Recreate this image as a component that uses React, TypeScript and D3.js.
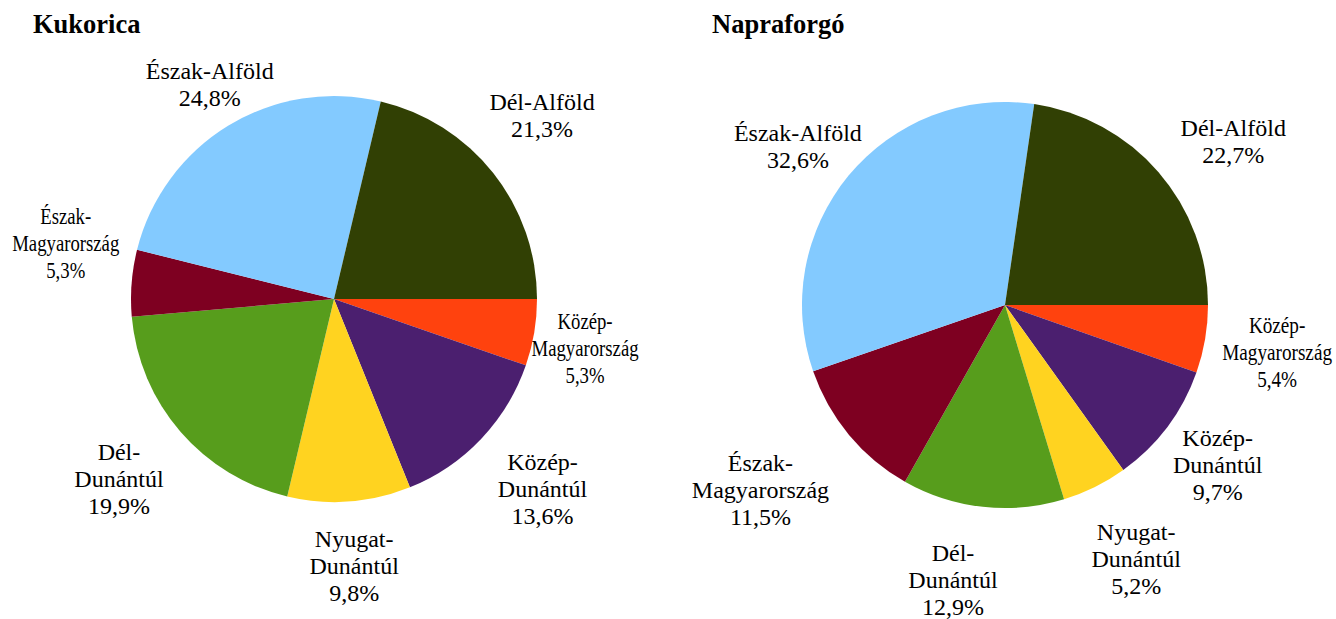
import React from "react";
import * as d3 from "d3";

const regionLines: string[][] = [
  ["Közép-", "Magyarország"],
  ["Közép-", "Dunántúl"],
  ["Nyugat-", "Dunántúl"],
  ["Dél-", "Dunántúl"],
  ["Észak-", "Magyarország"],
  ["Észak-Alföld"],
  ["Dél-Alföld"],
];
const regionColors = ["#FF420E", "#4B1F6F", "#FFD320", "#579D1C", "#7E0021", "#83CAFF", "#314004"];
const kukoricaValues = [5.3, 13.6, 9.8, 19.9, 5.3, 24.8, 21.3];
const napraforgoValues = [5.4, 9.7, 5.2, 12.9, 11.5, 32.6, 22.7];
const chartTitles = ["Kukorica", "Napraforgó"];

// layout: [radius factor, angle shift in degrees, horizontal squeeze]
const kukoricaLabelLayout: [number, number, number][] = [
  [1.26, 1.5, 0.78],
  [1.39, -1.2, 1],
  [1.32, 0, 1],
  [1.38, 1, 1],
  [1.35, 7.3, 0.78],
  [1.22, 1.2, 1],
  [1.365, -3, 1],
];
const napraforgoLabelLayout: [number, number, number][] = [
  [1.36, 0, 0.8],
  [1.31, 0, 1],
  [1.41, -1, 1],
  [1.38, 4.4, 1],
  [1.51, 2.7, 1],
  [1.286, -2.1, 1],
  [1.384, 5.2, 1],
];

const W = 1336;
const H = 619;
const R = 203;
const FONT = "Liberation Serif, serif";
const LINE_H = 27;

function Pie({ cx, cy, values, layout, title, titleX }: any) {
  const pie = d3
    .pie<number>()
    .sort(null)
    .value((d) => d)
    .startAngle(Math.PI / 2)
    .endAngle(Math.PI / 2 + 2 * Math.PI);
  const arcs = pie(values);
  const arc = d3.arc<d3.PieArcDatum<number>>().innerRadius(0).outerRadius(R);
  const fmt = (v: number) => v.toFixed(1).replace(".", ",") + "%";
  return (
    <g>
      <text x={titleX} y={33} style={{ fontFamily: FONT, fontWeight: "bold", fontSize: "26.5px" }} fill="#000">
        {title}
      </text>
      <g transform={`translate(${cx},${cy})`}>
        {arcs.map((a, i) => (
          <path key={i} d={arc(a) || ""} fill={regionColors[i]} />
        ))}
        {arcs.map((a, i) => {
          const [k, dAng, squeeze] = layout[i];
          const mid = (a.startAngle + a.endAngle) / 2 + (dAng * Math.PI) / 180;
          const lx = Math.sin(mid) * R * k;
          const ly = -Math.cos(mid) * R * k;
          const lines = [...regionLines[i], fmt(values[i])];
          const n = lines.length;
          return (
            <g key={"l" + i} transform={`translate(${lx},${ly}) scale(${squeeze},1)`}>
              <text style={{ fontFamily: FONT, fontSize: "24px" }} textAnchor="middle" fill="#000">
                {lines.map((t, j) => (
                  <tspan key={j} x={0} y={(j - (n - 1) / 2) * LINE_H + 8}>
                    {t}
                  </tspan>
                ))}
              </text>
            </g>
          );
        })}
      </g>
    </g>
  );
}

export default function App() {
  return (
    <div style={{ position: "absolute", left: 0, top: 0 }}>
      <svg width={W} height={H} style={{ display: "block", background: "#fff" }}>
        <Pie cx={334} cy={299} values={kukoricaValues} layout={kukoricaLabelLayout} title={chartTitles[0]} titleX={33} />
        <Pie cx={1005} cy={305} values={napraforgoValues} layout={napraforgoLabelLayout} title={chartTitles[1]} titleX={712} />
      </svg>
    </div>
  );
}
